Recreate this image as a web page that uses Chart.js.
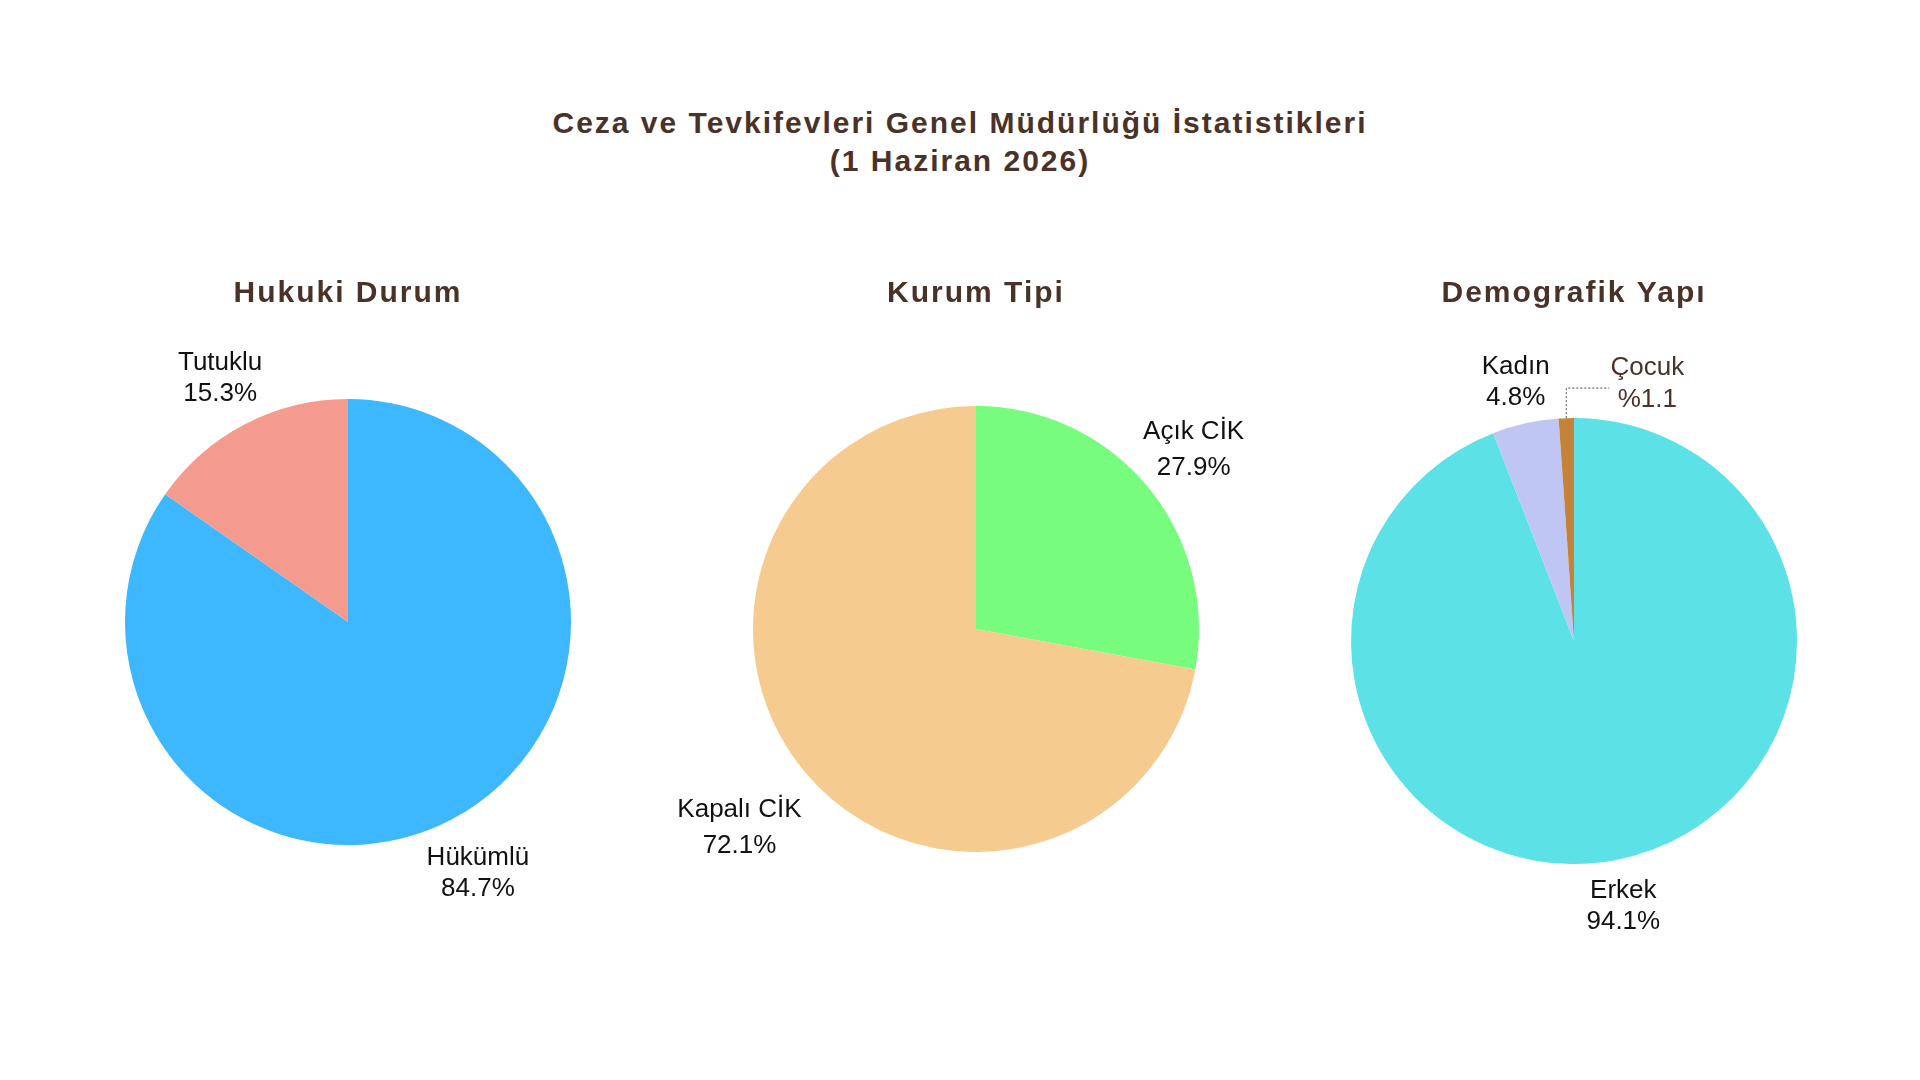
<!DOCTYPE html>
<html lang="tr">
<head>
<meta charset="utf-8">
<title>Ceza ve Tevkifevleri Genel Müdürlüğü İstatistikleri</title>
<script src="https://cdn.jsdelivr.net/npm/chart.js@4.4.1/dist/chart.umd.min.js"></script>
<style>
  html, body { margin: 0; padding: 0; background: #fff; }
  body { width: 1920px; height: 1080px; position: relative; overflow: hidden; }
  #title {
    position: absolute; left: 0; top: 104px; width: 1920px;
    text-align: center; color: #4a3229;
    font: bold 30px "Liberation Sans", Arial, sans-serif;
    letter-spacing: 2px; line-height: 38px;
  }
  canvas { position: absolute; }
</style>
</head>
<body>
<div id="title">Ceza ve Tevkifevleri Genel Müdürlüğü İstatistikleri<br>(1 Haziran 2026)</div>
<canvas id="hukuki" width="680" height="740" style="left:8px;top:250px"></canvas>
<canvas id="kurum" width="680" height="740" style="left:636px;top:250px"></canvas>
<canvas id="demo" width="680" height="740" style="left:1234px;top:250px"></canvas>
<script>
// data (percent)
const hukukiLabels = ["Hükümlü", "Tutuklu"];
const hukukiValues = [84.7, 15.3];
const kurumLabels = ["Açık CİK", "Kapalı CİK"];
const kurumValues = [27.9, 72.1];
const demoLabels = ["Erkek", "Kadın", "Çocuk"];
const demoValues = [94.1, 4.8, 1.1];

const FONT = '"Liberation Sans", Arial, sans-serif';
const BROWN = "#4a3229";

// spaced-out bold titles
const titleSpacing = {
  id: "titleSpacing",
  beforeDraw(chart) { chart.ctx.letterSpacing = "2px"; },
  beforeDatasetsDraw(chart) { chart.ctx.letterSpacing = "0px"; }
};

// name + percent outside each slice, optional callout with a dotted leader
const sliceLabels = {
  id: "sliceLabels",
  afterDatasetsDraw(chart, args, opts) {
    const ctx = chart.ctx;
    const meta = chart.getDatasetMeta(0);
    const values = chart.data.datasets[0].data;
    const total = values.reduce((a, b) => a + b, 0);
    ctx.save();
    ctx.font = "26px " + FONT;
    ctx.textAlign = "center";
    ctx.textBaseline = "middle";
    meta.data.forEach((arc, i) => {
      const p = arc.getProps(["x", "y", "startAngle", "endAngle", "outerRadius"], true);
      const mid = (p.startAngle + p.endAngle) / 2;
      const pct = (values[i] / total * 100).toFixed(1);
      const name = chart.data.labels[i];
      const c = opts.callout;
      if (c && c.index === i) {
        const ax = p.x + Math.cos(mid) * p.outerRadius;
        const ay = p.y + Math.sin(mid) * p.outerRadius;
        ctx.strokeStyle = "#555";
        ctx.lineWidth = 1;
        ctx.setLineDash([2, 2]);
        ctx.beginPath();
        ctx.moveTo(ax, ay);
        ctx.lineTo(ax, ay - c.rise);
        ctx.lineTo(ax + c.run, ay - c.rise);
        ctx.stroke();
        ctx.setLineDash([]);
        ctx.fillStyle = c.color;
        ctx.fillText(name, ax + c.dx, ay - c.dy - c.gap / 2);
        ctx.fillText("%" + pct, ax + c.dx, ay - c.dy + c.gap / 2);
      } else {
        const d = opts.distance[i];
        const lx = p.x + Math.cos(mid) * p.outerRadius * d;
        const ly = p.y + Math.sin(mid) * p.outerRadius * d + 2;
        ctx.fillStyle = opts.color;
        ctx.fillText(name, lx, ly - opts.gap / 2);
        ctx.fillText(pct + "%", lx, ly + opts.gap / 2);
      }
    });
    ctx.restore();
  }
};

// canvas 680x740: title block = 26 + 36 + padBottom, pie area 600x446
function makePie(id, title, labels, values, colors, padBottom, labelOpts) {
  return new Chart(document.getElementById(id), {
    type: "pie",
    data: {
      labels: labels,
      datasets: [{
        data: values,
        backgroundColor: colors,
        borderWidth: 0,
        hoverOffset: 0
      }]
    },
    options: {
      responsive: false,
      animation: false,
      layout: { padding: { top: 0, left: 40, right: 40, bottom: 740 - 62 - padBottom - 446 } },
      plugins: {
        legend: { display: false },
        tooltip: { enabled: false },
        title: {
          display: true,
          text: title,
          color: BROWN,
          font: { family: FONT, size: 30, weight: "bold", lineHeight: 1.2 },
          padding: { top: 26, bottom: padBottom }
        },
        sliceLabels: labelOpts
      }
    },
    plugins: [titleSpacing, sliceLabels]
  });
}

makePie("hukuki", "Hukuki Durum", hukukiLabels, hukukiValues,
  ["#3db7fd", "#f59a8f"], 87,
  { distance: [1.26, 1.24], gap: 31, color: "#111" });

makePie("kurum", "Kurum Tipi", kurumLabels, kurumValues,
  ["#78fc7d", "#f6cb8f"], 94,
  { distance: [1.27, 1.38], gap: 36, color: "#111" });

makePie("demo", "Demografik Yapı", demoLabels, demoValues,
  ["#5ce1e6", "#c0c6f3", "#c5833a"], 106,
  { distance: [1.2, 1.2, 1.2], gap: 31, color: "#111",
    callout: { index: 2, rise: 30, run: 43, dx: 81, dy: 34, gap: 32, color: BROWN } });
</script>
</body>
</html>
